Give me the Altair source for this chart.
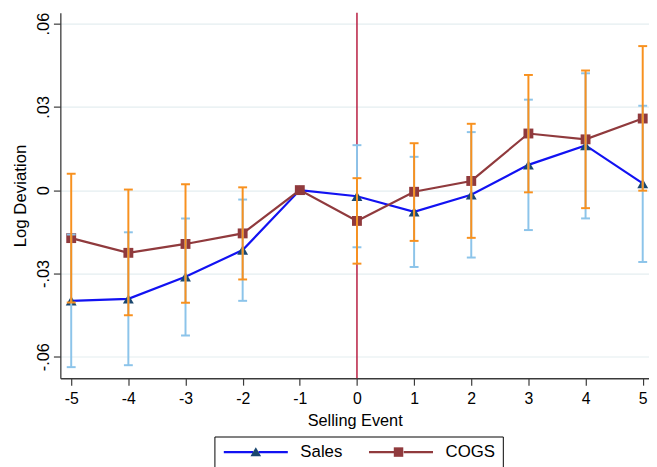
import altair as alt
import pandas as pd

# ---------------- data ----------------
events = [-5, -4, -3, -2, -1, 0, 1, 2, 3, 4, 5]

sales = [-0.0399, -0.0392, -0.0312, -0.0216, 0.0, -0.0022, -0.0078, -0.0017, 0.0091, 0.0161, 0.0024]
sales_lo = [-0.0638, -0.0631, -0.0524, -0.0399, None, -0.0206, -0.0277, -0.0243, -0.0144, -0.0102, -0.0259]
sales_hi = [-0.0160, -0.0152, -0.0102, -0.0034, None, 0.0162, 0.0120, 0.0209, 0.0326, 0.0421, 0.0304]

cogs = [-0.0173, -0.0226, -0.0194, -0.0156, 0.0, -0.0111, -0.0006, 0.0033, 0.0204, 0.0183, 0.0258]
cogs_lo = [-0.0405, -0.0451, -0.0406, -0.0322, None, -0.0265, -0.0183, -0.0172, -0.0008, -0.0065, -0.0002]
cogs_hi = [0.0059, 0.0002, 0.0021, 0.0010, None, 0.0043, 0.0169, 0.0239, 0.0415, 0.0431, 0.0519]

series_names = ["Sales", "COGS"]
event_line = [0]
y_ticks = [-0.06, -0.03, 0.0, 0.03, 0.06]

# ---------------- styles ----------------
FONT = "Liberation Sans"
BLUE = "#1212f2"
NAVY = "#1a476f"
MAROON = "#903a3d"
ORANGE = "#f8911f"
LIGHTBLUE = "#8cc4ea"
CRIMSON = "#b81d40"
GRID = "#e4eef0"

sales_df = pd.DataFrame({"event": events, "value": sales, "lo": sales_lo, "hi": sales_hi, "series": "Sales"})
cogs_df = pd.DataFrame({"event": events, "value": cogs, "lo": cogs_lo, "hi": cogs_hi, "series": "COGS"})
vline_df = pd.DataFrame({"event": event_line})
both_df = pd.concat([sales_df, cogs_df])
both_df["series_m"] = "m_" + both_df["series"]
marker_names = ["m_" + s for s in series_names]

xscale = alt.Scale(domain=[-5.19, 5.11], nice=False, zero=False)
yscale = alt.Scale(domain=[-0.0678, 0.0639], nice=False, zero=False)

xaxis = alt.Axis(
    values=events,
    labelExpr="datum.value < 0 ? '-' + abs(datum.value) : '' + datum.value",
    title="Selling Event",
    grid=False,
)
yaxis = alt.Axis(
    values=y_ticks,
    labelExpr="abs(datum.value) < 1e-9 ? '0' : (datum.value < 0 ? '-' : '') + '.' + slice(format(abs(datum.value), '.2f'), 2)",
    title="Log Deviation",
    grid=True,
)


def X():
    return alt.X("event:Q", scale=xscale, axis=xaxis)


def Y(field):
    return alt.Y(f"{field}:Q", scale=yscale, axis=yaxis)


vline = alt.Chart(vline_df).mark_rule(color=CRIMSON, strokeWidth=1.5).encode(x=X())

sales_line = alt.Chart(sales_df).mark_line(color=BLUE, strokeWidth=2.2).encode(x=X(), y=Y("value"))
cogs_line = alt.Chart(cogs_df).mark_line(color=MAROON, strokeWidth=2.2).encode(x=X(), y=Y("value"))

sales_pts = alt.Chart(sales_df).mark_point(
    shape="triangle-up", filled=True, size=121, color=NAVY, opacity=1
).encode(x=X(), y=Y("value"))
cogs_pts = alt.Chart(cogs_df).mark_point(
    shape="square", filled=True, size=100, color=MAROON, opacity=1
).encode(x=X(), y=Y("value"))


def ci_layers(df, color):
    base = alt.Chart(df).transform_filter("isValid(datum.lo)")
    rule = base.mark_rule(color=color, strokeWidth=2).encode(x=X(), y=Y("lo"), y2="hi:Q")
    cap_lo = base.mark_tick(color=color, orient="horizontal", size=9, thickness=2, opacity=1).encode(x=X(), y=Y("lo"))
    cap_hi = base.mark_tick(color=color, orient="horizontal", size=9, thickness=2, opacity=1).encode(x=X(), y=Y("hi"))
    return [rule, cap_lo, cap_hi]


# legend: two overlapping legends, one for the line pieces (with labels and box),
# one for the markers (blank labels; wider column gap makes up for the label width)
line_path = "M-1,0H3.95M4.85,0H9.8"
tri_path = "M4.4,-0.8L5.3,0.7H3.5Z"
sq_path = "M3.6,-0.8H5.2V0.8H3.6Z"

common = dict(
    title=None,
    orient="none",
    legendX=156,
    legendY=429,
    direction="horizontal",
    columns=2,
    padding=7,
    labelFont=FONT,
    labelFontSize=17,
    labelOffset=63,
    labelLimit=300,
    symbolSize=144,
    cornerRadius=0,
)

legend_lines = alt.Legend(
    strokeColor="black",
    labelColor="black",
    symbolType=line_path,
    symbolStrokeWidth=2.2,
    symbolFillColor="transparent",
    columnPadding=22,
    **common,
)
legend_marks = alt.Legend(
    labelColor="transparent",
    labelExpr="datum.label == 'm_Sales' ? '         ' : '           '",
    symbolStrokeWidth=0,
    columnPadding=64.5,
    **common,
)

legend_line_layer = alt.Chart(both_df).transform_filter("false").mark_point(
    filled=False, size=144, strokeWidth=2.2, opacity=1, shape=line_path
).encode(
    x=X(),
    y=Y("value"),
    stroke=alt.Stroke("series:N", scale=alt.Scale(domain=series_names, range=[BLUE, MAROON]), legend=legend_lines),
)

legend_mark_layer = alt.Chart(both_df).transform_filter("false").mark_point(
    filled=True, size=144, strokeWidth=0, opacity=1
).encode(
    x=X(),
    y=Y("value"),
    shape=alt.Shape("series_m:N", scale=alt.Scale(domain=marker_names, range=[tri_path, sq_path]), legend=legend_marks),
    fill=alt.Fill("series_m:N", scale=alt.Scale(domain=marker_names, range=[NAVY, MAROON]), legend=legend_marks),
)

layers = (
    [vline, sales_line, cogs_line, sales_pts, cogs_pts]
    + ci_layers(sales_df, LIGHTBLUE)
    + ci_layers(cogs_df, ORANGE)
    + [legend_line_layer, legend_mark_layer]
)

chart = alt.layer(*layers).properties(
    width=596,
    height=370,
    autosize=alt.AutoSizeParams(type="none"),
    padding={"left": 53, "top": 2, "right": 0, "bottom": 87},
    background="white",
).configure_view(
    stroke="transparent"
).configure_axis(
    labelFont=FONT,
    titleFont=FONT,
    labelColor="black",
    titleColor="black",
    titleFontWeight="normal",
    domainColor="#3a3a3a",
    domainWidth=1.3,
    tickColor="#3a3a3a",
    tickWidth=1.2,
    tickSize=7,
    gridColor=GRID,
    gridWidth=1.2,
).configure_axisX(
    labelFontSize=16,
    labelPadding=6,
    titleFontSize=16.5,
    titlePadding=6,
).configure_axisY(
    labelFontSize=16.5,
    labelAngle=270,
    labelAlign="center",
    labelBaseline="bottom",
    labelPadding=2,
    titleFontSize=17,
    titlePadding=6,
)

chart.save("out.html", embed_options={"renderer": "svg", "actions": False})
